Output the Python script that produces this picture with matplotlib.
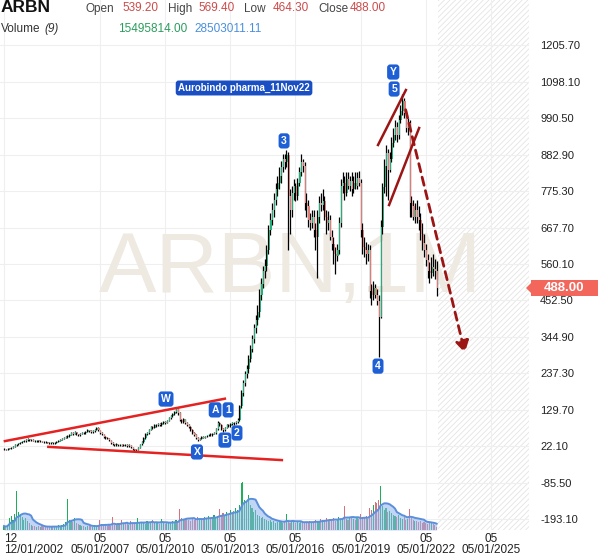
import numpy as np
import pandas as pd
import matplotlib
matplotlib.use("Agg")
import matplotlib.pyplot as plt
from matplotlib.patches import Polygon, Rectangle

plt.rcParams['font.family'] = ['Liberation Sans', 'DejaVu Sans']
plt.rcParams['hatch.linewidth'] = 0.6
plt.rcParams['hatch.color'] = '#e6e6e6'

# monthly bars Dec 2002 .. Nov 2022
start = pd.Period("2002-12", freq="M")
first_open = 14

closes = [15, 14, 16, 17, 19, 22, 26, 28, 31, 34, 37, 38,
          41, 43, 40, 42, 39, 38, 40, 37, 38, 36, 35, 34,
          33, 32, 34, 31, 33, 36, 38, 42, 45, 48, 50, 53,
          57, 62, 60, 64, 58, 56, 60, 63, 61, 66, 70, 68,
          65, 68, 72, 78, 70, 62, 58, 50, 47, 45, 40, 32,
          28, 27, 29, 26, 28, 25, 27, 26, 24, 26, 20, 14,
          12, 13, 18, 28, 35, 48, 58, 62, 72, 80, 78, 84,
          86, 88, 85, 90, 95, 92, 98, 105, 112, 118, 125, 132,
          120, 100, 95, 102, 90, 85, 80, 72, 62, 55, 48, 42,
          45, 50, 48, 52, 55, 58, 56, 60, 62, 75, 92, 85,
          75, 70, 78, 85, 82, 88, 92, 90, 95, 100, 140, 180,
          210, 235, 250, 280, 310, 340, 370, 395, 420, 470, 500, 540,
          555, 600, 660, 690, 720, 750, 780, 800, 820, 845, 870, 860,
          880, 760, 720, 770, 790, 760, 800, 830, 860, 850, 740, 730,
          690, 680, 700, 660, 640, 700, 740, 735, 745, 700, 680, 690,
          640, 620, 590, 585, 600, 680, 790, 800, 770, 810, 790, 805,
          780, 800, 790, 815, 800, 660, 610, 600, 590, 600, 480, 470,
          490, 470, 450, 404, 669, 787, 850, 887, 837, 870, 917, 940,
          964, 940, 985, 1010, 1040, 1005, 960, 975, 740, 730, 700, 720,
          698, 690, 650, 622, 600, 572, 540, 533, 552, 545, 539.2, 488]

highs = [17, 16, 17, 19, 21, 24, 28, 30, 33, 36, 39, 40,
         43, 46, 45, 44, 43, 41, 42, 41, 40, 39, 38, 37,
         36, 35, 36, 35, 35, 38, 40, 44, 47, 50, 53, 56,
         60, 65, 64, 67, 66, 60, 62, 66, 65, 69, 73, 72,
         71, 70, 75, 81, 80, 72, 65, 60, 53, 50, 47, 42,
         34, 30, 31, 30, 30, 29, 29, 29, 28, 28, 27, 22,
         16, 15, 20, 30, 38, 50, 61, 66, 75, 83, 83, 87,
         89, 92, 90, 94, 98, 97, 101, 108, 115, 122, 128, 138,
         136, 124, 104, 105, 104, 93, 88, 83, 75, 65, 58, 50,
         47, 52, 53, 54, 57, 60, 61, 62, 65, 78, 96, 95,
         88, 78, 80, 88, 88, 91, 95, 95, 98, 105, 145, 190,
         218, 245, 262, 292, 322, 352, 382, 410, 440, 485, 520, 555,
         575, 615, 675, 710, 740, 770, 800, 820, 845, 865, 885, 885,
         895, 890, 780, 790, 810, 800, 815, 845, 885, 870, 860, 770,
         750, 710, 720, 720, 680, 720, 760, 770, 780, 760, 720, 715,
         705, 660, 640, 610, 620, 700, 810, 830, 820, 830, 830, 820,
         830, 820, 830, 830, 835, 810, 680, 640, 625, 620, 615, 500,
         510, 500, 485, 470, 690, 800, 870, 910, 900, 890, 935, 960,
         985, 980, 1000, 1030, 1062, 1050, 1010, 990, 985, 760, 750, 740,
         750, 730, 710, 680, 650, 620, 590, 565, 580, 590, 575, 569.4]

lows = [13, 13, 13, 15, 16, 18, 21, 25, 27, 30, 33, 35,
        36, 39, 38, 38, 37, 35, 36, 35, 35, 34, 33, 32,
        31, 30, 30, 29, 30, 32, 34, 37, 40, 43, 46, 48,
        51, 55, 57, 58, 56, 53, 54, 58, 58, 59, 64, 65,
        62, 62, 66, 70, 68, 60, 55, 48, 44, 43, 38, 30,
        26, 25, 25, 24, 25, 23, 23, 24, 22, 22, 18, 12,
        10, 10, 12, 17, 26, 33, 45, 55, 60, 70, 75, 76,
        81, 83, 82, 83, 88, 88, 90, 96, 102, 109, 115, 122,
        116, 96, 90, 92, 88, 82, 77, 69, 58, 52, 45, 38,
        40, 43, 46, 46, 50, 53, 54, 54, 58, 60, 72, 82,
        72, 66, 68, 76, 79, 80, 86, 86, 88, 92, 98, 135,
        172, 200, 225, 240, 270, 300, 328, 358, 380, 405, 455, 490,
        520, 540, 590, 645, 675, 700, 735, 760, 780, 800, 830, 840,
        845, 600, 650, 700, 750, 745, 750, 790, 820, 830, 720, 700,
        670, 660, 665, 640, 600, 520, 680, 715, 720, 690, 650, 660,
        630, 600, 560, 530, 570, 590, 670, 770, 750, 760, 780, 775,
        760, 770, 780, 780, 790, 640, 590, 580, 560, 570, 460, 440,
        455, 460, 440, 286, 400, 650, 770, 760, 750, 830, 860, 905,
        925, 920, 930, 975, 1000, 990, 950, 940, 700, 700, 690, 680,
        680, 660, 630, 600, 580, 555, 520, 505, 520, 525, 515, 464.3]

# volume in millions
volume = [19, 14, 24, 57, 66, 48, 76, 185, 85, 76, 62, 48,
          57, 43, 33, 24, 19, 19, 14, 19, 14, 19, 14, 14,
          14, 19, 14, 19, 19, 14, 24, 19, 24, 28, 38, 147,
          48, 43, 38, 57, 33, 28, 24, 19, 19, 14, 19, 19,
          19, 14, 24, 19, 24, 48, 28, 19, 24, 19, 24, 19,
          62, 24, 28, 33, 24, 48, 28, 28, 38, 24, 43, 28,
          33, 28, 57, 33, 38, 33, 28, 43, 33, 38, 48, 33,
          38, 33, 28, 52, 33, 28, 38, 33, 33, 43, 38, 48,
          43, 100, 57, 48, 52, 57, 48, 43, 57, 48, 52, 62,
          52, 48, 57, 62, 57, 66, 52, 62, 71, 57, 66, 100,
          71, 81, 66, 85, 76, 95, 81, 90, 105, 95, 119, 223,
          228, 143, 133, 166, 119, 105, 85, 95, 71, 66, 57, 62,
          52, 48, 43, 48, 38, 43, 33, 38, 43, 38, 33, 43,
          76, 38, 33, 43, 38, 33, 38, 33, 43, 38, 33, 38,
          38, 43, 33, 38, 48, 43, 38, 52, 48, 43, 57, 48,
          52, 48, 57, 43, 48, 62, 52, 57, 114, 52, 48, 62,
          57, 52, 48, 57, 52, 76, 62, 57, 66, 52, 105, 95,
          119, 133, 128, 143, 209, 114, 95, 105, 85, 90, 81, 71,
          66, 62, 71, 57, 52, 62, 48, 52, 100, 57, 48, 43,
          43, 38, 43, 33, 38, 33, 28, 38, 33, 28, 24, 15.5]

price_ticks = [1205.70, 1098.10, 990.50, 882.90, 775.30, 667.70, 560.10,
               452.50, 344.90, 237.30, 129.70, 22.10, -85.50, -193.10]
tick_months = ["2002-12", "2007-05", "2010-05", "2013-05", "2016-05",
               "2019-05", "2022-05", "2025-05"]

# drawings: (month index, price)
upper_line = [(0.5, 38), (122, 163)]
lower_line = [(24.5, 21), (153.5, -18)]
channel_a = [(206.6, 911), (222, 1073)]
channel_b = [(212.7, 734), (229.3, 961)]
arrow = [(221.5, 1023), (255, 290)]
wave_labels = [("Y", 215, 1126), ("5", 215.5, 1076), ("3", 154.7, 923),
               ("W", 89.5, 162), ("A", 116.6, 130), ("1", 123.8, 130),
               ("B", 122, 41), ("2", 128.7, 62), ("X", 106.6, 6),
               ("4", 206.6, 259)]
note = ("Aurobindo pharma_11Nov22", 132.6, 1079)

o = np.array([first_open] + closes[:-1], dtype=float)
c = np.array(closes, dtype=float)
h = np.array(highs, dtype=float)
l = np.array(lows, dtype=float)
v = np.array(volume, dtype=float)
x = np.arange(len(c))
up = c >= o

fig = plt.figure(figsize=(6, 5.58), dpi=100)
ax = fig.add_axes([0, 28 / 558, 529 / 600, 530 / 558])
ax.set_xlim(-2.2, 290)
ax.set_ylim(-224.1, 1338.4)

ax.axvspan(239.6, 290, facecolor='white', edgecolor='#e4e4e4', hatch='//////', lw=0, zorder=0)
ax.grid(True, color='#efefef', lw=0.8, zorder=0)
ax.set_axisbelow(True)

ax.text(158, 477, "ARBN,1M", fontsize=62, color='#eee9e1', ha='center', va='baseline', zorder=1)

green = '#22b07a'
red = '#e07b76'
ax.vlines(x, l, h, color='black', lw=0.9, zorder=3)
ax.bar(x + 0.5, c - o, bottom=o, width=0.6, color=np.where(up, green, red), zorder=4)

# volume overlay
axv = ax.twinx()
axv.set_ylim(0, 2520)
axv.set_xlim(-2.2, 290)
axv.axis('off')
ma = pd.Series(v).rolling(9, min_periods=1).mean()
axv.bar(x, v, width=0.6, color=np.where(up, '#1fae5a', '#d9707a'), zorder=2)
axv.fill_between(x, ma, color='#8fb4ee', alpha=0.55, lw=0, zorder=3)
axv.plot(x, ma, color='#5b8fdc', lw=1.4, zorder=4)

# drawings
ax.plot(*zip(*upper_line), color='#e52222', lw=1.8, zorder=5)
ax.plot(*zip(*lower_line), color='#e52222', lw=1.8, zorder=5)
ax.plot(*zip(*channel_a), color='#9c1515', lw=1.8, zorder=5)
ax.plot(*zip(*channel_b), color='#9c1515', lw=1.8, zorder=5)
ax.annotate('', xy=arrow[1], xytext=arrow[0],
            arrowprops=dict(arrowstyle='-|>,head_length=0.7,head_width=0.4',
                            color='#9c1515', lw=2, ls=(0, (3, 2))), zorder=5)

for txt, mx, py in wave_labels:
    ax.text(mx, py, txt, color='white', fontsize=7.5, fontweight='bold', ha='center', va='center',
            bbox=dict(boxstyle='round,pad=0.25,rounding_size=0.3', fc='#1f5fd6', ec='none'), zorder=6)
ax.text(note[1], note[2], note[0], color='white', fontsize=7, fontweight='bold', ha='center', va='center',
        bbox=dict(boxstyle='round,pad=0.25,rounding_size=0.3', fc='#1a4fc4', ec='none'), zorder=6)

# axes
for s in ax.spines.values():
    s.set_visible(False)
ax.yaxis.tick_right()
ax.set_yticks(price_ticks)
ax.set_yticklabels([f"{t:.2f}" for t in price_ticks])
ax.tick_params(axis='y', length=0, pad=8, labelsize=8, labelcolor='#222222')
xt = [(pd.Period(m, freq="M") - start).n for m in tick_months]
xl = [f"{m[5:]}\n{m[5:]}/01/{m[:4]}" for m in tick_months]
ax.set_xticks(xt)
ax.set_xticklabels(xl, fontsize=8.5, color='#222222', linespacing=0.95)
ax.tick_params(axis='x', length=0, pad=2)
ax.get_xticklabels()[0].set_ha('left')
ax.get_xticklabels()[0].set_x(-2.2)

# header
def px(xp, yp):
    return xp / 600, 1 - yp / 558

fig.text(*px(1, 8), "ARBN", fontsize=12.5, fontweight='bold', color='#111111', va='center')
for lab, xl_, val, xv in [("Open", 86, "539.20", 122), ("High", 168, "569.40", 198),
                           ("Low", 244, "464.30", 273), ("Close", 318, "488.00", 350)]:
    fig.text(*px(xl_, 9), lab, fontsize=8.5, color='#444444', va='center')
    fig.text(*px(xv, 8), val, fontsize=8.5, color='#cc4b4b', va='center')
fig.text(*px(1, 29), "Volume", fontsize=8.5, color='#333333', va='center')
fig.text(*px(44, 29), "(9)", fontsize=8.5, color='#333333', va='center', style='italic')
fig.text(*px(118, 29), "15495814.00", fontsize=8.5, color='#2a9d5c', va='center')
fig.text(*px(194, 29), "28503011.11", fontsize=8.5, color='#4a8fdc', va='center')

# last price tag
tag_y = 288
fig.patches.append(Rectangle(px(531, tag_y + 8), 67 / 600, 16 / 558, transform=fig.transFigure,
                             fc='#f2665c', ec='none'))
fig.patches.append(Polygon([px(526, tag_y), px(531, tag_y - 5), px(531, tag_y + 5)],
                           closed=True, transform=fig.transFigure, fc='#f2665c', ec='none'))
fig.text(*px(564, tag_y), "488.00", fontsize=9.5, fontweight='bold', color='white', ha='center', va='center')

fig.savefig("out.png", dpi=100)
